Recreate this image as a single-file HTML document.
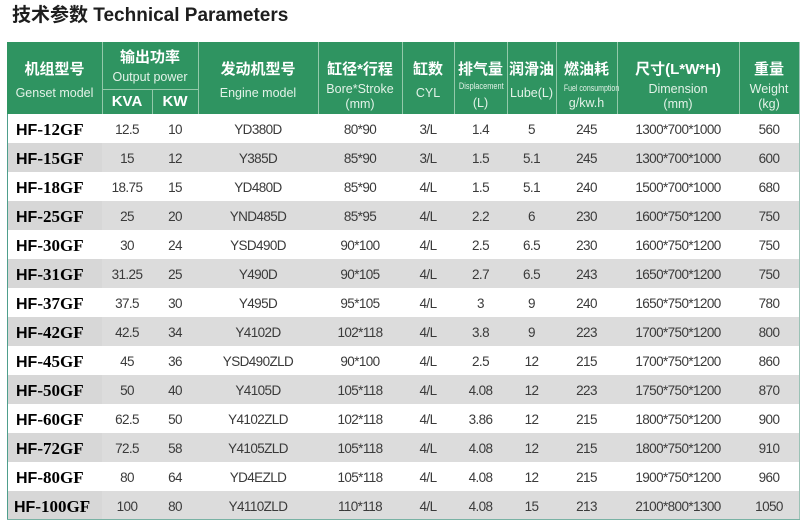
<!DOCTYPE html>
<html><head><meta charset="utf-8">
<style>
*{margin:0;padding:0;box-sizing:border-box}
html,body{width:805px;height:522px;background:#fff;overflow:hidden}
body{position:relative;font-family:"Liberation Sans","Noto Sans CJK SC",sans-serif}
.title{position:absolute;left:12px;top:6px;font-size:19px;line-height:20px;font-weight:bold;color:#1e1e1e;white-space:nowrap;font-family:"Liberation Sans","Noto Sans CJK SC",sans-serif}
.hdr{position:absolute;left:7px;top:42px;width:792px;height:72px;background:#2f9461}
.vl{position:absolute;width:1px;background:#93c9aa}
.hl{position:absolute;height:1px;background:#93c9aa}
.t{position:absolute;text-align:center;white-space:nowrap;color:#fff}
.cn{font-size:15px;line-height:18px;font-weight:bold;font-family:"Liberation Sans","Noto Sans CJK SC",sans-serif}
.en{font-size:12.5px;line-height:14px;color:#e3f2e8;font-weight:normal}
.sm{font-size:9px;line-height:10px;color:#e3f2e8}
.sm span{display:inline-block;transform:scaleX(0.82);transform-origin:center}
table{position:absolute;left:7px;top:114px;width:792px;border-collapse:collapse;table-layout:fixed}
td{height:29px;padding:1px 0 0 0;text-align:center;vertical-align:middle;white-space:nowrap;font-size:13.5px;color:#3a3a3a;letter-spacing:-0.6px;overflow:hidden}
tr.g td{background:#dcdcdc}
td.m{text-align:left;padding-left:9px;padding-top:3px;color:#000;letter-spacing:0}
td.m b{font-family:"Liberation Sans",sans-serif;font-size:16px;font-weight:bold}
td.m i{font-style:normal;font-family:"Liberation Serif",serif;font-size:17px;font-weight:bold}
tr.g td.m{background:#d7d7d7}
.lb{position:absolute;left:7px;top:114px;width:1px;height:406px;background:#4e9f8c}
.rb{position:absolute;left:799px;top:42px;width:1px;height:478px;background:#9cc2b6}
.bb{position:absolute;left:7px;top:519px;width:793px;height:1px;background:#79b2a4}
</style></head>
<body>
<div class="title">技术参数 Technical Parameters</div>

<div class="hdr"></div>
<div class="vl" style="left:102px;top:42px;height:72px"></div>
<div class="vl" style="left:152px;top:89px;height:25px"></div>
<div class="vl" style="left:198px;top:42px;height:72px"></div>
<div class="vl" style="left:318px;top:42px;height:72px"></div>
<div class="vl" style="left:402px;top:42px;height:72px"></div>
<div class="vl" style="left:454px;top:42px;height:72px"></div>
<div class="vl" style="left:507px;top:42px;height:72px"></div>
<div class="vl" style="left:556px;top:42px;height:72px"></div>
<div class="vl" style="left:617px;top:42px;height:72px"></div>
<div class="vl" style="left:739px;top:42px;height:72px"></div>
<div class="hl" style="left:102px;top:89px;width:96px"></div>

<div class="t cn" style="left:7px;width:95px;top:61px">机组型号</div>
<div class="t en" style="left:7px;width:95px;top:86px">Genset model</div>

<div class="t cn" style="left:102px;width:96px;top:49px">输出功率</div>
<div class="t en" style="left:102px;width:96px;top:70px">Output power</div>
<div class="t cn" style="left:102px;width:50px;top:93px">KVA</div>
<div class="t cn" style="left:152px;width:46px;top:93px">KW</div>

<div class="t cn" style="left:198px;width:120px;top:61px">发动机型号</div>
<div class="t en" style="left:198px;width:120px;top:86px">Engine model</div>

<div class="t cn" style="left:318px;width:84px;top:61px">缸径*行程</div>
<div class="t en" style="left:318px;width:84px;top:82px">Bore*Stroke</div>
<div class="t en" style="left:318px;width:84px;top:97px">(mm)</div>

<div class="t cn" style="left:402px;width:52px;top:61px">缸数</div>
<div class="t en" style="left:402px;width:52px;top:86px">CYL</div>

<div class="t cn" style="left:454px;width:53px;top:61px">排气量</div>
<div class="t sm" style="left:454px;width:53px;top:81px"><span>Displacement</span></div>
<div class="t en" style="left:454px;width:53px;top:96px">(L)</div>

<div class="t cn" style="left:507px;width:49px;top:61px">润滑油</div>
<div class="t en" style="left:507px;width:49px;top:86px">Lube(L)</div>

<div class="t cn" style="left:556px;width:61px;top:61px">燃油耗</div>
<div class="t sm" style="left:556px;width:61px;top:83px"><span style="transform:scaleX(0.78)">Fuel consumption</span></div>
<div class="t en" style="left:556px;width:61px;top:96px">g/kw.h</div>

<div class="t cn" style="left:617px;width:122px;top:61px">尺寸(L*W*H)</div>
<div class="t en" style="left:617px;width:122px;top:82px">Dimension</div>
<div class="t en" style="left:617px;width:122px;top:97px">(mm)</div>

<div class="t cn" style="left:739px;width:60px;top:61px">重量</div>
<div class="t en" style="left:739px;width:60px;top:82px">Weight</div>
<div class="t en" style="left:739px;width:60px;top:97px">(kg)</div>

<table>
<colgroup>
<col style="width:95px"><col style="width:50px"><col style="width:46px"><col style="width:120px"><col style="width:84px"><col style="width:52px"><col style="width:53px"><col style="width:49px"><col style="width:61px"><col style="width:122px"><col style="width:60px">
</colgroup>
<tr><td class="m"><b>HF</b><i>-12GF</i></td><td>12.5</td><td>10</td><td>YD380D</td><td>80*90</td><td>3/L</td><td>1.4</td><td>5</td><td>245</td><td>1300*700*1000</td><td>560</td></tr>
<tr class="g"><td class="m"><b>HF</b><i>-15GF</i></td><td>15</td><td>12</td><td>Y385D</td><td>85*90</td><td>3/L</td><td>1.5</td><td>5.1</td><td>245</td><td>1300*700*1000</td><td>600</td></tr>
<tr><td class="m"><b>HF</b><i>-18GF</i></td><td>18.75</td><td>15</td><td>YD480D</td><td>85*90</td><td>4/L</td><td>1.5</td><td>5.1</td><td>240</td><td>1500*700*1000</td><td>680</td></tr>
<tr class="g"><td class="m"><b>HF</b><i>-25GF</i></td><td>25</td><td>20</td><td>YND485D</td><td>85*95</td><td>4/L</td><td>2.2</td><td>6</td><td>230</td><td>1600*750*1200</td><td>750</td></tr>
<tr><td class="m"><b>HF</b><i>-30GF</i></td><td>30</td><td>24</td><td>YSD490D</td><td>90*100</td><td>4/L</td><td>2.5</td><td>6.5</td><td>230</td><td>1600*750*1200</td><td>750</td></tr>
<tr class="g"><td class="m"><b>HF</b><i>-31GF</i></td><td>31.25</td><td>25</td><td>Y490D</td><td>90*105</td><td>4/L</td><td>2.7</td><td>6.5</td><td>243</td><td>1650*700*1200</td><td>750</td></tr>
<tr><td class="m"><b>HF</b><i>-37GF</i></td><td>37.5</td><td>30</td><td>Y495D</td><td>95*105</td><td>4/L</td><td>3</td><td>9</td><td>240</td><td>1650*750*1200</td><td>780</td></tr>
<tr class="g"><td class="m"><b>HF</b><i>-42GF</i></td><td>42.5</td><td>34</td><td>Y4102D</td><td>102*118</td><td>4/L</td><td>3.8</td><td>9</td><td>223</td><td>1700*750*1200</td><td>800</td></tr>
<tr><td class="m"><b>HF</b><i>-45GF</i></td><td>45</td><td>36</td><td>YSD490ZLD</td><td>90*100</td><td>4/L</td><td>2.5</td><td>12</td><td>215</td><td>1700*750*1200</td><td>860</td></tr>
<tr class="g"><td class="m"><b>HF</b><i>-50GF</i></td><td>50</td><td>40</td><td>Y4105D</td><td>105*118</td><td>4/L</td><td>4.08</td><td>12</td><td>223</td><td>1750*750*1200</td><td>870</td></tr>
<tr><td class="m"><b>HF</b><i>-60GF</i></td><td>62.5</td><td>50</td><td>Y4102ZLD</td><td>102*118</td><td>4/L</td><td>3.86</td><td>12</td><td>215</td><td>1800*750*1200</td><td>900</td></tr>
<tr class="g"><td class="m"><b>HF</b><i>-72GF</i></td><td>72.5</td><td>58</td><td>Y4105ZLD</td><td>105*118</td><td>4/L</td><td>4.08</td><td>12</td><td>215</td><td>1800*750*1200</td><td>910</td></tr>
<tr><td class="m"><b>HF</b><i>-80GF</i></td><td>80</td><td>64</td><td>YD4EZLD</td><td>105*118</td><td>4/L</td><td>4.08</td><td>12</td><td>215</td><td>1900*750*1200</td><td>960</td></tr>
<tr class="g"><td class="m" style="padding-left:7px"><b>HF</b><i>-100GF</i></td><td>100</td><td>80</td><td>Y4110ZLD</td><td>110*118</td><td>4/L</td><td>4.08</td><td>15</td><td>213</td><td>2100*800*1300</td><td>1050</td></tr>
</table>

<div class="lb"></div>
<div class="rb"></div>
<div class="bb"></div>
</body></html>
